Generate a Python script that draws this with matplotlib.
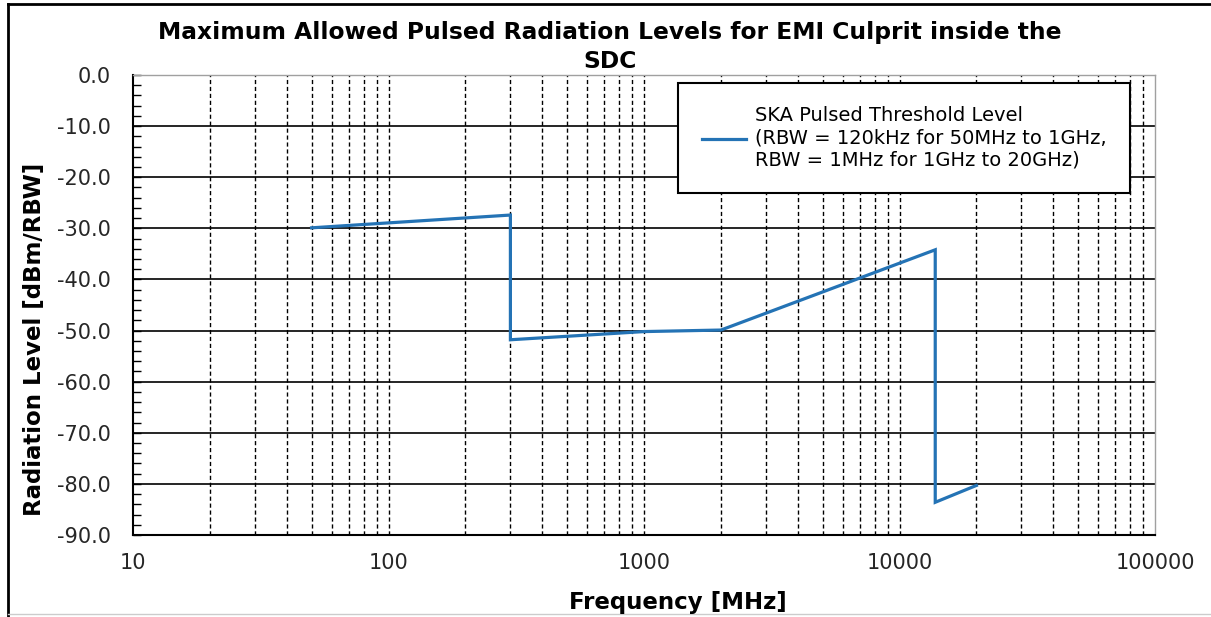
import matplotlib
matplotlib.use("Agg")
import matplotlib.pyplot as plt
from matplotlib.lines import Line2D
from matplotlib.ticker import FixedLocator, NullFormatter, MultipleLocator

# ---- data ----
freq_mhz = [50, 300, 300, 1000, 2000, 13800, 13800, 20000]
level_dbm = [-29.9, -27.4, -51.8, -50.2, -49.9, -34.2, -83.6, -80.3]
x_ticks = [10, 100, 1000, 10000, 100000]
x_ticklabels = ["10", "100", "1000", "10000", "100000"]
y_ticks = [0, -10, -20, -30, -40, -50, -60, -70, -80, -90]
y_ticklabels = ["%.1f" % v for v in y_ticks]
title = "Maximum Allowed Pulsed Radiation Levels for EMI Culprit inside the\nSDC"
x_label = "Frequency [MHz]"
y_label = "Radiation Level [dBm/RBW]"
series_label = ("SKA Pulsed Threshold Level\n(RBW = 120kHz for 50MHz to 1GHz,\n"
                "RBW = 1MHz for 1GHz to 20GHz)")

plt.rcParams['font.family'] = ['DejaVu Sans']

W, H = 1211, 617
fig = plt.figure(figsize=(W / 100, H / 100), dpi=100)
ax = fig.add_axes([133 / W, 1 - 535 / H, (1155 - 133) / W, (535 - 75) / H])

line_color = '#2473B5'
ax.plot(freq_mhz, level_dbm, color=line_color, lw=2.3, zorder=5,
        solid_joinstyle='miter')

ax.set_xscale('log')
ax.set_xlim(10, 100000)
ax.set_ylim(-90, 0)

# grid: vertical dashed at all log positions, horizontal solid at every 10
minor_pos = [m * 10 ** e for e in range(1, 5) for m in range(1, 10)]
for xv in minor_pos:
    if 10 < xv < 100000:
        ax.axvline(xv, color='black', lw=1.0, ls=(0, (3, 2)), zorder=1)
for yv in y_ticks:
    if -90 < yv < 0:
        ax.axhline(yv, color='black', lw=1.2, zorder=1)

ax.xaxis.set_major_locator(FixedLocator(x_ticks))
ax.set_xticklabels(x_ticklabels)
ax.xaxis.set_minor_locator(FixedLocator([]))
ax.xaxis.set_minor_formatter(NullFormatter())
ax.tick_params(axis='x', which='both', length=0, pad=13, labelsize=15, labelcolor='#262626')

ax.yaxis.set_major_locator(FixedLocator(y_ticks))
ax.set_yticklabels(y_ticklabels)
ax.yaxis.set_minor_locator(MultipleLocator(2))
ax.tick_params(axis='y', which='both', direction='in', length=6, width=1.0,
               pad=16, labelsize=15, labelcolor='#262626')

for s in ['left', 'bottom']:
    ax.spines[s].set_color('black')
    ax.spines[s].set_linewidth(1.5)
for s in ['top', 'right']:
    ax.spines[s].set_color('#a0a0a0')
    ax.spines[s].set_linewidth(1.0)

fig.text(678 / W, 1 - 602 / H, x_label, ha='center', va='center', fontsize=16.5,
         fontweight='bold')
fig.text(35 / W, 1 - 339 / H, y_label, ha='center', va='center', fontsize=16.5,
         fontweight='bold', rotation=90)
fig.text(610 / W, 1 - 47 / H, title, ha='center', va='center', fontsize=16.8,
         fontweight='bold', linespacing=1.3)

handle = Line2D([], [], color=line_color, lw=2.3)
leg = ax.legend([handle], [series_label], loc='upper right',
                bbox_to_anchor=((1130 - 133) / (1155 - 133), (535 - 83) / (535 - 75)),
                fontsize=14, frameon=True, fancybox=False, framealpha=1,
                edgecolor='black', handlelength=2.3, handletextpad=0.45,
                borderpad=1.2, borderaxespad=0.0, labelspacing=0.2)
leg.get_frame().set_linewidth(1.5)
leg.set_zorder(10)

# outer image frame
fig.add_artist(Line2D([8 / W, 1], [1 - 4 / H, 1 - 4 / H], color='black', lw=2.0,
                      transform=fig.transFigure))
fig.add_artist(Line2D([8 / W, 8 / W], [0, 1 - 4 / H], color='black', lw=2.0,
                      transform=fig.transFigure))
fig.add_artist(Line2D([8 / W, 1], [1 - 614 / H, 1 - 614 / H], color='#cccccc', lw=1.0,
                      transform=fig.transFigure))

fig.savefig("out.png", dpi=100)
